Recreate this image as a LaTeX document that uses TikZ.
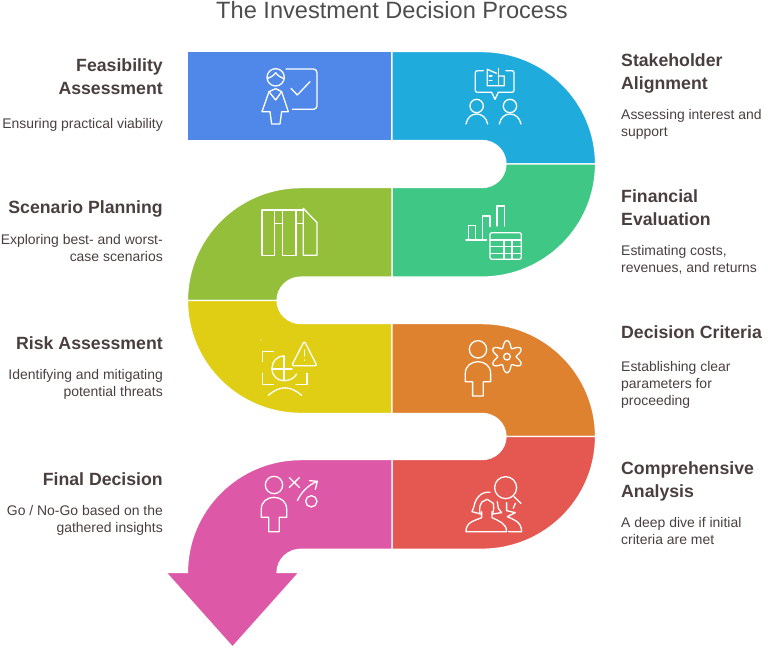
\documentclass[tikz,border=0pt]{standalone}
\usepackage{fontspec}
\setmainfont{Liberation Sans}
\definecolor{blueband}{HTML}{5088E9}
\definecolor{cyanband}{HTML}{1FACDC}
\definecolor{greenband}{HTML}{3EC785}
\definecolor{oliveband}{HTML}{93BF3B}
\definecolor{yellowband}{HTML}{E0CE14}
\definecolor{orangeband}{HTML}{DE8230}
\definecolor{redband}{HTML}{E55852}
\definecolor{pinkband}{HTML}{DE58A8}
\definecolor{inktext}{HTML}{4A3F3F}
\definecolor{titletext}{HTML}{4D4D4D}
\tikzset{
  band/.style={draw=white, line width=1.2pt},
  icon/.style={draw=white, line width=1.3pt, line cap=round, line join=round},
  upperzoom/.style={shift={(180,40)}, x=0.3333pt, y=-0.3333pt},
  lowerzoom/.style={shift={(160,290)}, x=0.3333pt, y=-0.3333pt},
  head/.style={font=\fontsize{17.7}{23}\selectfont\bfseries, text=inktext, inner sep=0pt},
  desc/.style={font=\fontsize{13.95}{17}\selectfont, text=inktext, inner sep=0pt},
  headL/.style={head, anchor=east, align=right},
  headR/.style={head, anchor=west, align=left},
  descL/.style={desc, anchor=east, align=right},
  descR/.style={desc, anchor=west, align=left},
}
\begin{document}
\begin{tikzpicture}[x=1pt, y=-1pt]
  \useasboundingbox (0,0) rectangle (768,649);

  \node (title) at (392,10) [font=\fontsize{23.6}{28}\selectfont, text=titletext, inner sep=0pt] {The Investment Decision Process};

  % ribbon
  \fill[blueband, band] (187.5,51.6) rectangle (392,140.4);
  \fill[cyanband, band] (392,51.6) -- (482,51.6) arc[start angle=-90, end angle=0, x radius=113.5, y radius=112.4] -- (506,164) arc[start angle=0, end angle=-90, x radius=24, y radius=23.6] -- (392,140.4) -- cycle;
  \fill[greenband, band] (595.5,164) arc[start angle=0, end angle=90, x radius=113.5, y radius=113] -- (392,277) -- (392,187.6) -- (482,187.6) arc[start angle=90, end angle=0, x radius=24, y radius=23.6] -- cycle;
  \fill[oliveband, band] (392,187.6) -- (301,187.6) arc[start angle=-90, end angle=-180, x radius=113.5, y radius=112.9] -- (277,300.5) arc[start angle=180, end angle=270, x radius=24, y radius=23.5] -- (392,277) -- cycle;
  \fill[yellowband, band] (187.5,300.5) arc[start angle=180, end angle=90, x radius=113.5, y radius=112.9] -- (392,413.4) -- (392,323.6) -- (301,323.6) arc[start angle=90, end angle=180, x radius=24, y radius=23.1] -- cycle;
  \fill[orangeband, band] (392,323.6) -- (482,323.6) arc[start angle=-90, end angle=0, x radius=113.5, y radius=112.9] -- (506,436.5) arc[start angle=0, end angle=-90, x radius=24, y radius=23.1] -- (392,413.4) -- cycle;
  \fill[redband, band] (595.5,436.5) arc[start angle=0, end angle=90, x radius=113.5, y radius=112.7] -- (392,549.2) -- (392,459.6) -- (482,459.6) arc[start angle=90, end angle=0, x radius=24, y radius=23.1] -- cycle;
  \fill[pinkband, band] (392,459.6) -- (301,459.6) arc[start angle=-90, end angle=-180, x radius=113.5, y radius=112.9] -- (166,572.5) -- (232.5,647) -- (299,572.5) -- (277,572.5) arc[start angle=180, end angle=270, x radius=24, y radius=23.3] -- (392,549.2) -- cycle;

  % left column
  \node (feasHead) at (163,77) [headL] {Feasibility\\Assessment};
  \node (feasDesc) at (163,124.5) [descL] {Ensuring practical viability};
  \node (scenHead) at (163,208.5) [headL] {Scenario Planning};
  \node (scenDesc) at (163,248) [descL] {Exploring best- and worst-\\case scenarios};
  \node (riskHead) at (163,343.5) [headL] {Risk Assessment};
  \node (riskDesc) at (163,384) [descL] {Identifying and mitigating\\potential threats};
  \node (finalHead) at (163,479.5) [headL] {Final Decision};
  \node (finalDesc) at (163,520) [descL] {Go / No-Go based on the\\gathered insights};

  % right column
  \node (stakeHead) at (621,73) [headR] {Stakeholder\\Alignment};
  \node (stakeDesc) at (621,124.5) [descR] {Assessing interest and\\support};
  \node (finHead) at (621,208) [headR] {Financial\\Evaluation};
  \node (finDesc) at (621,259.5) [descR] {Estimating costs,\\revenues, and returns};
  \node (critHead) at (621,332.5) [headR] {Decision Criteria};
  \node (critDesc) at (621,385) [descR] {Establishing clear\\parameters for\\proceeding};
  \node (compHead) at (621,481) [headR] {Comprehensive\\Analysis};
  \node (compDesc) at (621,531) [descR] {A deep dive if initial\\criteria are met};

  % icons, upper half
  \begin{scope}[upperzoom]
    % presenter
    \draw[icon] (287,112) circle (26);
    \draw[icon] (262,116) .. controls (272,112) and (280,108) .. (287,98) .. controls (294,108) and (302,112) .. (312,116);
    \draw[icon] (267,155) -- (246,215) -- (270,215) -- (275,252) -- (300,252) -- (305,215) -- (325,215) -- (305,155) -- (287,146) -- cycle;
    \draw[icon] (267,155) -- (287,180) -- (305,155);
    \draw[icon, rounded corners=3.5pt] (318,87) -- (411,87) -- (411,208) -- (337,208);
    \draw[icon] (333,145) -- (352,165) -- (390,125);
    % speech bubble and two people
    \draw[icon, rounded corners=2pt] (910,92) -- (886,92) -- (886,157) -- (935,157);
    \draw[icon] (935,157) -- (945,178) -- (955,157);
    \draw[icon, rounded corners=2pt] (955,157) -- (1002,157) -- (1002,92) -- (978,92);
    \draw[icon] (955,85) -- (955,137);
    \draw[icon] (955,108) -- (973,108) -- (973,137) -- (922,137) -- (922,88) -- (950,100);
    \draw[icon] (928,108) -- (936,108) (928,122) -- (936,122);
    \draw[icon] (890,198) circle (20);
    \draw[icon] (990,198) circle (20);
    \draw[icon] (858,252) .. controls (862,232) and (875,222) .. (890,222) .. controls (905,222) and (919,232) .. (923,252);
    \draw[icon] (958,252) .. controls (962,232) and (975,222) .. (990,222) .. controls (1005,222) and (1019,232) .. (1023,252);
    % columns
    \draw[icon] (246,510) rectangle (284,646);
    \draw[icon] (308,510) rectangle (348,646);
    \draw[icon] (370,505) -- (411,548) -- (411,646) -- (370,646) -- cycle;
    \draw[icon] (284,510) -- (370,510);
    \draw[icon] (284,550) -- (308,550) (348,550) -- (370,550);
    % bars and table
    \draw[icon] (858,600) -- (920,600);
    \draw[icon] (866,600) -- (866,556) -- (887,556) -- (887,600);
    \draw[icon] (908,600) -- (908,528) -- (930,528) -- (930,560);
    \draw[icon] (951,558) -- (951,498) -- (973,498) -- (973,558);
    \draw[icon, rounded corners=2pt] (930,578) rectangle (1024,658);
    \draw[icon] (930,600) -- (1024,600) (930,620) -- (1024,620) (930,640) -- (1024,640);
    \draw[icon] (972,600) -- (972,658) (996,600) -- (996,658);
  \end{scope}

  % icons, lower half
  \begin{scope}[lowerzoom]
    % globe and warning
    \fill[white] (303,150) circle (2);
    \draw[icon, rounded corners=2pt] (433,153) -- (395,227) -- (471,227) -- cycle;
    \draw[icon] (433,180) -- (433,198) (433,210) -- (433,211);
    \draw[icon] (340,184) -- (308,184) -- (308,215) (308,250) -- (308,283) -- (340,283) (408,283) -- (441,283) -- (441,250);
    \draw[icon] (372,198) .. controls (350,198) and (336,215) .. (336,235) .. controls (336,258) and (352,272) .. (372,272) .. controls (388,272) and (402,266) .. (410,252);
    \draw[icon] (372,198) -- (372,272) (336,237) -- (396,237);
    \draw[icon] (325,316) .. controls (360,286) and (390,286) .. (425,316);
    % person and gear
    \draw[icon] (954,178) circle (26);
    \draw[icon] (938,318) -- (938,275) -- (916,275) -- (916,250) .. controls (916,228) and (934,215) .. (954,215) .. controls (974,215) and (992,228) .. (992,250) -- (992,275) -- (970,275) -- (970,318) -- cycle;
    \draw[icon] plot[domain=0:360, samples=120, smooth] ({1041+(38+10*cos(6*\x))*sin(\x)}, {200-(38+10*cos(6*\x))*cos(\x)});
    \draw[icon] (1041,200) circle (10);
    % person and play
    \draw[icon] (342,585) circle (26);
    \draw[icon] (326,725) -- (326,682) -- (304,682) -- (304,657) .. controls (304,635) and (322,622) .. (342,622) .. controls (362,622) and (380,635) .. (380,657) -- (380,682) -- (358,682) -- (358,725) -- cycle;
    \draw[icon] (388,563) -- (418,592) (418,563) -- (388,592);
    \draw[icon] (412,632) .. controls (425,605) and (445,585) .. (472,574);
    \draw[icon] (448,572) -- (472,574) -- (466,598);
    \draw[icon] (454,634) circle (17);
    % magnifier and women
    \draw[icon] (1037,593) circle (33);
    \draw[icon] (1062,620) -- (1083,640);
    \draw[icon] (990,607) .. controls (960,603) and (945,630) .. (942,650) -- (936,665) -- (962,672);
    \draw[icon] (960,672) .. controls (958,650) and (960,642) .. (966,636) -- (982,628) -- (1000,640) .. controls (1004,650) and (1000,660) .. (998,672);
    \draw[icon] (1012,635) -- (1015,655) -- (1025,668) -- (998,672);
    \draw[icon] (965,665) -- (965,683) .. controls (945,692) and (918,695) .. (918,725) -- (1040,725) .. controls (1040,700) and (1015,692) .. (996,683) -- (996,665);
    \draw[icon] (1040,638) -- (1040,662) -- (1066,668) -- (1042,680) .. controls (1060,688) and (1085,695) .. (1085,725) -- (1046,725);
    \draw[icon] (1066,640) -- (1060,655);
  \end{scope}
\end{tikzpicture}
\end{document}
